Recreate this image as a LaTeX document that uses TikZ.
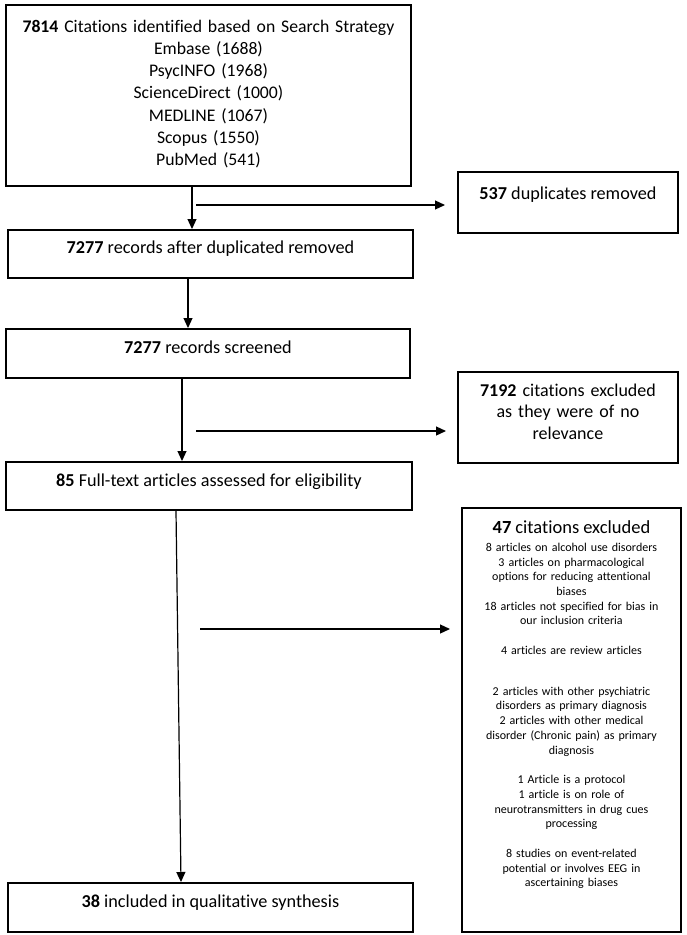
\documentclass[tikz,border=0pt]{standalone}
\usepackage{fontspec}
\setmainfont{Carlito}[Ligatures=CommonOff]
\usetikzlibrary{arrows.meta}
\newcommand{\padbottom}[1]{\par\vspace{#1}\hrule height0pt width0pt\relax}
\begin{document}
\begin{tikzpicture}[x=1pt,y=-1pt,
  box/.style={draw, line width=1.9pt, rectangle, anchor=north west, inner sep=0pt, align=center},
  big/.style={font=\fontsize{18.2}{22.2}\selectfont},
  one/.style={big, text height=12pt},
  small/.style={font=\fontsize{12}{14.7}\selectfont},
  conn/.style={line width=1.2pt, -{Triangle[length=10pt,width=9pt]}}]
\useasboundingbox (0,0) rectangle (686,935);

% boxes
\node[box, font=\fontsize{17.7}{22.2}\selectfont, text width=400pt, minimum width=405pt, minimum height=181pt] (b1) at (5,4)
  {\textbf{7814} Citations identified based on Search Strategy\\
   Embase (1688)\\ PsycINFO (1968)\\ ScienceDirect (1000)\\ MEDLINE (1067)\\ Scopus (1550)\\ PubMed (541)\padbottom{3pt}};
\node[box, one, text depth=18pt, minimum width=220pt, minimum height=61pt] (b537) at (457,171)
  {\textbf{537} duplicates removed};
\node[box, one, text depth=13pt, minimum width=405pt, minimum height=48pt] (b2) at (7,229)
  {\textbf{7277} records after duplicated removed};
\node[box, one, text depth=12pt, minimum width=404pt, minimum height=49pt] (b3) at (5,328)
  {\textbf{7277} records screened};
\node[box, font=\fontsize{18}{21.5}\selectfont, text width=215pt, minimum width=220pt, minimum height=91pt] (b7192) at (457,371)
  {\textbf{7192} citations excluded\\ as they were of no\\ relevance\padbottom{12pt}};
\node[box, one, text depth=11pt, minimum width=406pt, minimum height=48pt] (b85) at (5,461)
  {\textbf{85} Full-text articles assessed for eligibility};
\node[box, small, text width=214pt, minimum width=219pt, minimum height=424pt] (b47) at (461,507)
  {{\fontsize{18.5}{20}\selectfont\textbf{47} citations excluded}\\[3pt]
   8 articles on alcohol use disorders\\
   3 articles on pharmacological\\
   options for reducing attentional\\
   biases\\
   18 articles not specified for bias in\\
   our inclusion criteria\\[15pt]
   4 articles are review articles\\[26pt]
   2 articles with other psychiatric\\
   disorders as primary diagnosis\\
   2 articles with other medical\\
   disorder (Chronic pain) as primary\\
   diagnosis\\[15pt]
   1 Article is a protocol\\
   1 article is on role of\\
   neurotransmitters in drug cues\\
   processing\\[15pt]
   8 studies on event-related\\
   potential or involves EEG in\\
   ascertaining biases\padbottom{30pt}};
\node[box, one, text depth=12pt, minimum width=405pt, minimum height=49pt] (b38) at (7,882)
  {\textbf{38} included in qualitative synthesis};

% helper coordinates
\coordinate (v1) at (192,0);
\coordinate (v2) at (188,0);
\coordinate (v3) at (182,0);
\coordinate (v4a) at (176,0);
\coordinate (v4b) at (181,0);
\coordinate (h1s) at (196,205);
\coordinate (h1e) at (445,205);
\coordinate (h2s) at (196,431);
\coordinate (h2e) at (446,431);
\coordinate (h3s) at (200,629);
\coordinate (h3e) at (450,629);

% connectors
\draw[conn] (b1.south -| v1) -- (b2.north -| v1);
\draw[conn] (h1s) -- (h1e);
\draw[conn] (b2.south -| v2) -- (b3.north -| v2);
\draw[conn] (b3.south -| v3) -- (b85.north -| v3);
\draw[conn] (h2s) -- (h2e);
\draw[conn] (b85.south -| v4a) -- (b38.north -| v4b);
\draw[conn] (h3s) -- (h3e);
\end{tikzpicture}
\end{document}
